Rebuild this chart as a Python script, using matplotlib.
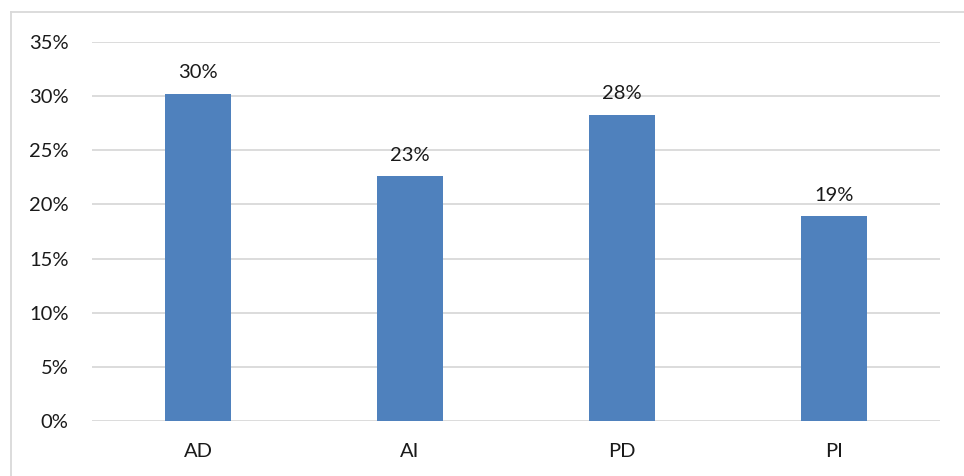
import matplotlib.pyplot as plt
from matplotlib.lines import Line2D
from matplotlib.ticker import FuncFormatter

categories = ["AD", "AI", "PD", "PI"]
shares = [30.2, 22.6, 28.3, 18.9]  # percent
value_labels = ["30%", "23%", "28%", "19%"]
yticks = [0, 5, 10, 15, 20, 25, 30, 35]

plt.rcParams['font.family'] = ['Lato', 'DejaVu Sans']

W, H = 964, 476
fig = plt.figure(figsize=(W / 100, H / 100), dpi=100)
# plot area in pixels: x 92..940, y 42..421
ax = fig.add_axes([92 / W, 1 - 421 / H, (940 - 92) / W, (421 - 42) / H])

x = range(len(categories))
bars = ax.bar(x, shares, width=0.31, color='#4F81BD', zorder=3)
for b, txt in zip(bars, value_labels):
    ax.annotate(txt, xy=(b.get_x() + b.get_width() / 2, b.get_height()),
                xytext=(0, 9), textcoords="offset points",
                ha='center', va='bottom', fontsize=14.5, color='#1a1a1a')

ax.set_xlim(-0.5, len(categories) - 0.5)
ax.set_ylim(0, 35)
ax.set_yticks(yticks)
ax.yaxis.set_major_formatter(FuncFormatter(lambda v, p: "%d%%" % v))
ax.set_xticks(list(x))
ax.set_xticklabels(categories)
ax.grid(True, axis='y', color='#d9d9d9', linewidth=1.3, zorder=0)
ax.set_axisbelow(True)
for s in ax.spines.values():
    s.set_visible(False)
ax.tick_params(axis='both', length=0, labelsize=14.5, colors='#1a1a1a')
ax.tick_params(axis='y', pad=17)
ax.tick_params(axis='x', pad=16)

# chart frame: top and left edges only
fig.add_artist(Line2D([11 / W, 11 / W], [0, 1 - 12 / H], transform=fig.transFigure,
                      color='#d9d9d9', linewidth=1.3))
fig.add_artist(Line2D([11 / W, 1], [1 - 12 / H, 1 - 12 / H], transform=fig.transFigure,
                      color='#d9d9d9', linewidth=1.3))

fig.savefig("out.png", dpi=100)
